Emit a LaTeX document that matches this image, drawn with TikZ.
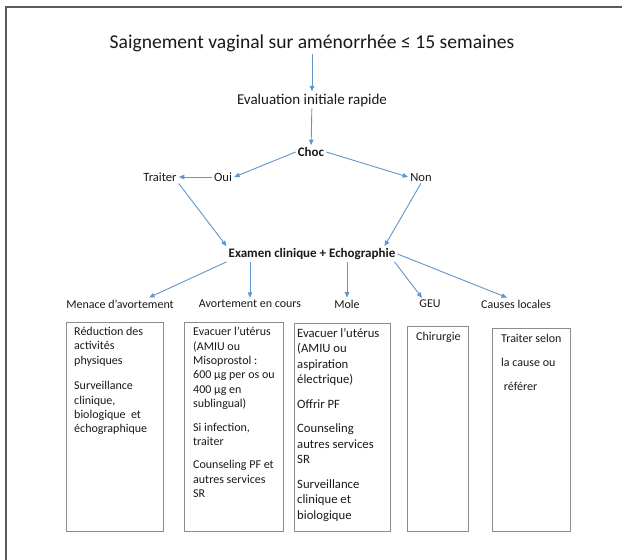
\documentclass[tikz,border=0pt]{standalone}
\usepackage{fontspec}
\setmainfont{Carlito}
\usetikzlibrary{arrows.meta}
\definecolor{arr}{RGB}{96,150,204}
\definecolor{frm}{RGB}{90,90,90}
\definecolor{bxc}{RGB}{140,140,140}
\definecolor{ink}{RGB}{25,25,25}
\begin{document}
\begin{tikzpicture}[x=1pt,y=-1pt,
  lbl/.style={inner sep=2pt, text=ink},
  con/.style={draw=arr, line width=0.9pt, -{Triangle[length=5.5pt,width=4.5pt]}},
  boxst/.style={draw=bxc, line width=1.1pt, anchor=north west, inner sep=0pt},
  txt/.style={anchor=north west, inner sep=0pt, align=left, text=ink, font=\fontsize{12}{14.4}\selectfont},
]
\useasboundingbox (0,0) rectangle (622,560);
\draw[frm, line width=2pt] (6,560) -- (6,7) -- (622,7);

\node[lbl, font=\fontsize{19.6}{23}\selectfont] (title) at (312,43) {Saignement vaginal sur aménorrhée ≤ 15 semaines};
\node[lbl, font=\fontsize{15}{18}\selectfont] (eval) at (312,100) {Evaluation initiale rapide};
\node[lbl, font=\fontsize{13}{16}\selectfont\bfseries] (choc) at (311,152) {Choc};
\node[lbl, font=\fontsize{12.6}{15}\selectfont] (traiter) at (160,177) {Traiter};
\node[lbl, font=\fontsize{12.6}{15}\selectfont] (oui) at (223,177) {Oui};
\node[lbl, font=\fontsize{12.6}{15}\selectfont] (non) at (421,177) {Non};
\node[lbl, font=\fontsize{13}{16}\selectfont\bfseries] (exam) at (312,254) {Examen clinique + Echographie};
\node[lbl, font=\fontsize{12}{14}\selectfont] (menl) at (120,304) {Menace d’avortement};
\node[lbl, font=\fontsize{12}{14}\selectfont] (avl) at (250,304) {Avortement en cours};
\node[lbl, font=\fontsize{12}{14}\selectfont] (molel) at (347,304) {Mole};
\node[lbl, font=\fontsize{12}{14}\selectfont] (geul) at (430,304) {GEU};
\node[lbl, font=\fontsize{12}{14}\selectfont] (caul) at (516,304) {Causes locales};

\node[boxst, minimum width=97pt, minimum height=209pt] (b1) at (66,322) {};
\node[boxst, minimum width=99pt, minimum height=209pt] (b2) at (184,322) {};
\node[boxst, minimum width=96pt, minimum height=208pt] (b3) at (294,323) {};
\node[boxst, minimum width=61pt, minimum height=205pt] (b4) at (407,326) {};
\node[boxst, minimum width=78pt, minimum height=203pt] (b5) at (492,328) {};

\node[txt] (t1) at ([xshift=8pt,yshift=-5pt]b1.north west) {Réduction des\\activités\\physiques\\[11pt]Surveillance\\clinique,\\biologique\ \ et\\échographique};
\node[txt] (t2) at ([xshift=9pt,yshift=-5pt]b2.north west) {Evacuer l’utérus\\(AMIU ou\\Misoprostol :\\600 µg per os ou\\400 µg en\\sublingual)\\[9pt]Si infection,\\traiter\\[9pt]Counseling PF et\\autres services\\SR};
\node[txt, font=\fontsize{12.7}{15.5}\selectfont] (t3) at ([xshift=3pt,yshift=-5pt]b3.north west) {Evacuer l’utérus\\(AMIU ou\\aspiration\\électrique)\\[9pt]Offrir PF\\[9pt]Counseling\\autres services\\SR\\[9pt]Surveillance\\clinique et\\biologique};
\node[txt] (t4) at ([xshift=9pt,yshift=-6pt]b4.north west) {Chirurgie};
\node[txt, font=\fontsize{12}{24}\selectfont] (t5) at ([xshift=9pt,yshift=-6pt]b5.north west) {Traiter selon\\la cause ou\\\ référer};

\draw[con] (title) -- (eval);
\draw[con] (eval) -- (choc);
\draw[con] (choc.west) -- (oui.east);
\draw[con] (choc.east) -- (non.west);
\draw[con] (oui.west) -- (traiter.east);
\draw[con] (traiter.south east) -- (exam.north west);
\draw[con] (non.south) -- ([xshift=-13pt]exam.north east);
\draw[con] (exam.south west) -- ([xshift=29pt]menl.north);
\draw[con] (exam.south -| avl.north) -- (avl.north);
\draw[con] (exam.south -| molel.north) -- (molel.north);
\draw[con] ([xshift=-3pt]exam.south east) -- ([xshift=-8pt]geul.north);
\draw[con] (exam.east) -- ([xshift=-9pt]caul.north);
\end{tikzpicture}
\end{document}
